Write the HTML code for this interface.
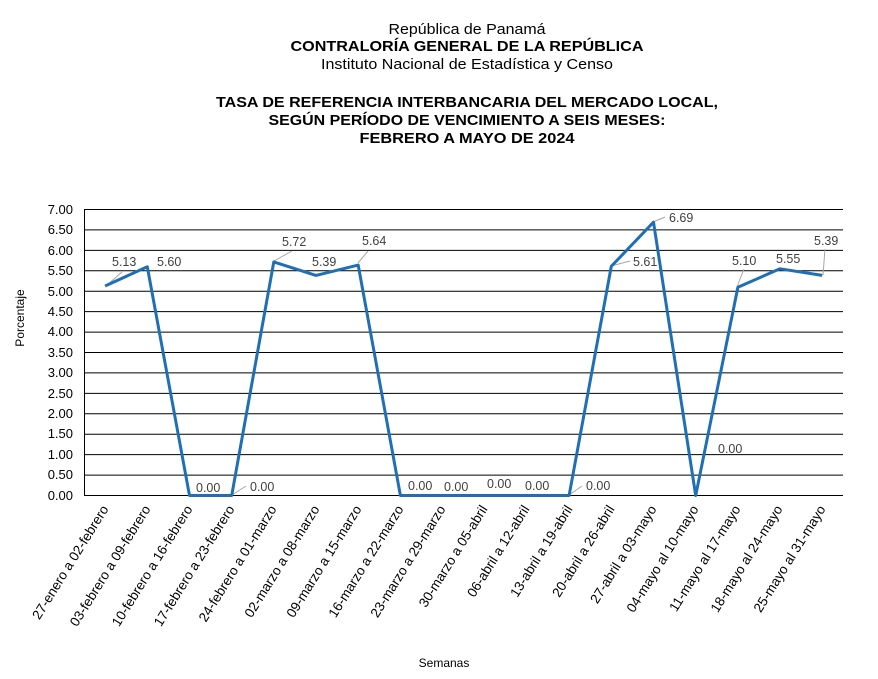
<!DOCTYPE html>
<html><head><meta charset="utf-8"><style>
body{margin:0;background:#fff}
svg{display:block;font-family:"Liberation Sans",Arial,sans-serif}
</style></head><body>
<svg width="878" height="679" viewBox="0 0 878 679">
<g text-anchor="middle" fill="#000" font-size="15">
<text x="467" y="34" textLength="157" lengthAdjust="spacingAndGlyphs">República de Panamá</text>
<text x="467" y="51" font-weight="bold" textLength="353" lengthAdjust="spacingAndGlyphs">CONTRALORÍA GENERAL DE LA REPÚBLICA</text>
<text x="467" y="69" textLength="292" lengthAdjust="spacingAndGlyphs">Instituto Nacional de Estadística y Censo</text>
<text x="467" y="107" font-weight="bold" textLength="502" lengthAdjust="spacingAndGlyphs">TASA DE REFERENCIA INTERBANCARIA DEL MERCADO LOCAL,</text>
<text x="467" y="125" font-weight="bold" textLength="397" lengthAdjust="spacingAndGlyphs">SEGÚN PERÍODO DE VENCIMIENTO A SEIS MESES:</text>
<text x="467" y="143" font-weight="bold" textLength="215" lengthAdjust="spacingAndGlyphs">FEBRERO A MAYO DE 2024</text>
</g>
<g stroke="#000" stroke-width="1">
<line x1="84" y1="209.5" x2="843" y2="209.5"/><line x1="84" y1="229.9" x2="843" y2="229.9"/><line x1="84" y1="250.4" x2="843" y2="250.4"/><line x1="84" y1="270.8" x2="843" y2="270.8"/><line x1="84" y1="291.2" x2="843" y2="291.2"/><line x1="84" y1="311.6" x2="843" y2="311.6"/><line x1="84" y1="332.1" x2="843" y2="332.1"/><line x1="84" y1="352.5" x2="843" y2="352.5"/><line x1="84" y1="372.9" x2="843" y2="372.9"/><line x1="84" y1="393.4" x2="843" y2="393.4"/><line x1="84" y1="413.8" x2="843" y2="413.8"/><line x1="84" y1="434.2" x2="843" y2="434.2"/><line x1="84" y1="454.6" x2="843" y2="454.6"/><line x1="84" y1="475.1" x2="843" y2="475.1"/><line x1="84" y1="495.5" x2="843" y2="495.5"/>
<line x1="84.5" y1="209" x2="84.5" y2="496"/>
</g>
<g font-size="13" text-anchor="end" fill="#000">
<text x="73" y="214">7.00</text><text x="73" y="234">6.50</text><text x="73" y="255">6.00</text><text x="73" y="275">5.50</text><text x="73" y="296">5.00</text><text x="73" y="316">4.50</text><text x="73" y="336">4.00</text><text x="73" y="357">3.50</text><text x="73" y="377">3.00</text><text x="73" y="398">2.50</text><text x="73" y="418">2.00</text><text x="73" y="438">1.50</text><text x="73" y="459">1.00</text><text x="73" y="479">0.50</text><text x="73" y="500">0.00</text>
</g>
<text transform="translate(24,318) rotate(-90)" font-size="12" text-anchor="middle">Porcentaje</text>
<text x="444" y="667" font-size="12" text-anchor="middle">Semanas</text>
<g stroke="#a6a6a6" stroke-width="1" fill="none">
<line x1="106" y1="286" x2="122" y2="272"/>
<line x1="232" y1="495" x2="246" y2="486"/>
<line x1="274" y1="261" x2="292" y2="251"/>
<line x1="358" y1="263" x2="368" y2="251"/>
<line x1="569" y1="495" x2="582" y2="486"/>
<line x1="611" y1="266" x2="630" y2="261"/>
<line x1="653" y1="222" x2="665" y2="217"/>
<line x1="737" y1="287" x2="744" y2="269"/>
<line x1="823" y1="275" x2="825" y2="249"/>
</g>
<polyline fill="none" stroke="#1f6fb5" stroke-width="3" stroke-linejoin="round" points="105.1,286.0 147.3,266.8 189.5,495.5 231.7,495.5 273.8,261.9 316.0,275.4 358.2,265.1 400.4,495.5 442.6,495.5 484.8,495.5 526.9,495.5 569.1,495.5 611.3,266.3 653.5,222.2 695.7,495.5 737.9,287.2 780.0,268.8 822.2,275.4"/>
<g font-size="12.5" fill="#404040">
<text x="112" y="266">5.13</text><text x="157" y="266">5.60</text><text x="196" y="492">0.00</text><text x="250" y="491">0.00</text>
<text x="282" y="246">5.72</text><text x="312" y="266">5.39</text><text x="362" y="245">5.64</text>
<text x="408" y="490">0.00</text><text x="444" y="491">0.00</text><text x="487" y="488">0.00</text><text x="525" y="490">0.00</text><text x="586" y="490">0.00</text>
<text x="633" y="266">5.61</text><text x="669" y="222">6.69</text><text x="718" y="453">0.00</text>
<text x="732" y="265">5.10</text><text x="776" y="263">5.55</text><text x="814" y="245">5.39</text>
</g>
<g font-size="13.5" fill="#000" text-anchor="end">
<text transform="translate(109,509) rotate(-58)">27-enero a 02-febrero</text>
<text transform="translate(151,509) rotate(-58)">03-febrero a 09-febrero</text>
<text transform="translate(193,509) rotate(-58)">10-febrero a 16-febrero</text>
<text transform="translate(235,509) rotate(-58)">17-febrero a 23-febrero</text>
<text transform="translate(277,509) rotate(-58)">24-febrero a 01-marzo</text>
<text transform="translate(320,509) rotate(-58)">02-marzo a 08-marzo</text>
<text transform="translate(362,509) rotate(-58)">09-marzo a 15-marzo</text>
<text transform="translate(404,509) rotate(-58)">16-marzo a 22-marzo</text>
<text transform="translate(446,509) rotate(-58)">23-marzo a 29-marzo</text>
<text transform="translate(488,509) rotate(-58)">30-marzo a 05-abril</text>
<text transform="translate(530,509) rotate(-58)">06-abril a 12-abril</text>
<text transform="translate(573,509) rotate(-58)">13-abril a 19-abril</text>
<text transform="translate(615,509) rotate(-58)">20-abril a 26-abril</text>
<text transform="translate(657,509) rotate(-58)">27-abril a 03-mayo</text>
<text transform="translate(699,509) rotate(-58)">04-mayo al 10-mayo</text>
<text transform="translate(741,509) rotate(-58)">11-mayo al 17-mayo</text>
<text transform="translate(783,509) rotate(-58)">18-mayo al 24-mayo</text>
<text transform="translate(826,509) rotate(-58)">25-mayo al 31-mayo</text>
</g>
</svg>
</body></html>
